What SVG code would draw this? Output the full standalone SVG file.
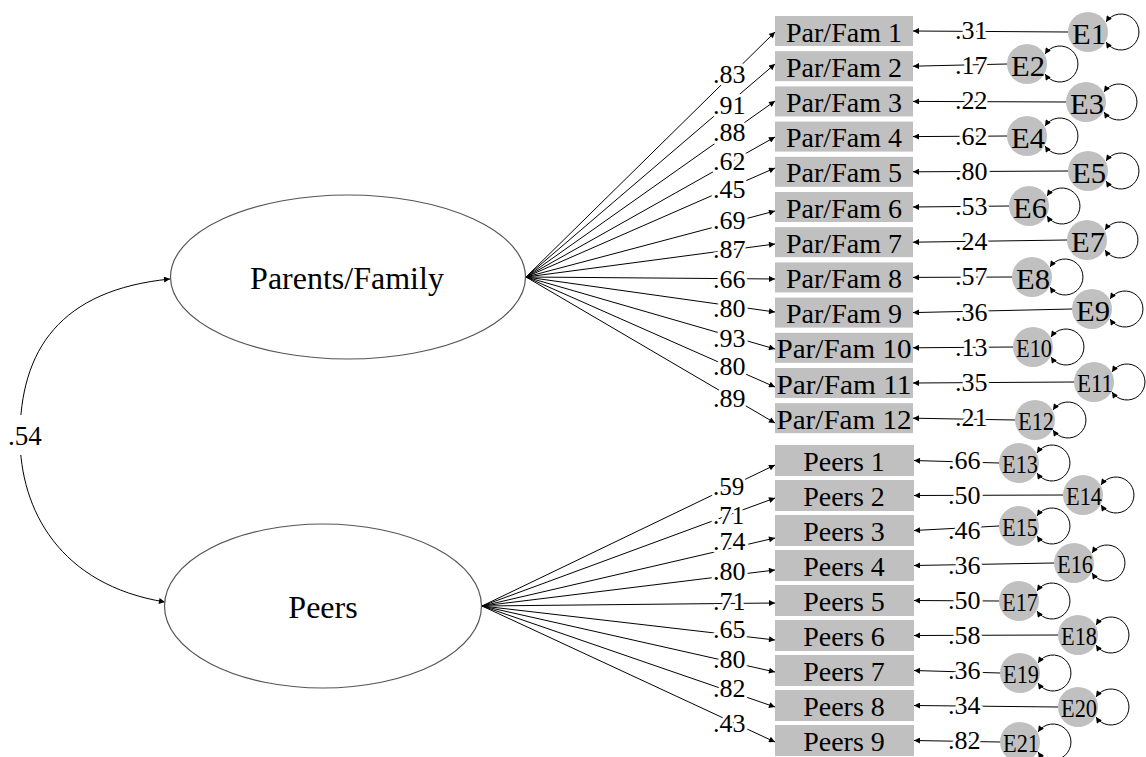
<svg xmlns="http://www.w3.org/2000/svg" width="1146" height="757" viewBox="0 0 1146 757">
<style>
.bg{fill:#fff}
.lat{fill:#fff;stroke:#555;stroke-width:1.2}
.box{fill:#c0c0c0}
.err{fill:#c0c0c0}
.ln{fill:none;stroke:#000;stroke-width:1}
.t{font-family:"Liberation Serif","Times New Roman",serif;fill:#000}
.lt{font-size:32px;text-anchor:middle}
.bt{font-size:28px;text-anchor:middle}
.et{font-size:30px;text-anchor:middle}
.es{font-size:26px;text-anchor:middle}
.lbl{font-size:26px;paint-order:stroke;stroke:#fff;stroke-width:6px;stroke-linejoin:round}
</style>
<defs>
<marker id="ah" viewBox="0 0 10 10" refX="10" refY="5" markerWidth="8" markerHeight="6" markerUnits="userSpaceOnUse" orient="auto-start-reverse">
<path d="M0,0 L10,5 L0,10 z" fill="#000"/>
</marker>
</defs>
<rect class="bg" x="0" y="0" width="1146" height="757"/>

<g id="connectors">
<path class="ln" d="M170,279 C60,290 20,350 20,437 C20,510 60,585 165,602" marker-start="url(#ah)" marker-end="url(#ah)"/>
<g marker-end="url(#ah)">
<path class="ln" d="M526,277 L775,32"/>
<path class="ln" d="M526,277 L775,64"/>
<path class="ln" d="M526,277 L775,101"/>
<path class="ln" d="M526,277 L775,137"/>
<path class="ln" d="M526,277 L775,168"/>
<path class="ln" d="M526,277 L775,211"/>
<path class="ln" d="M526,277 L775,244"/>
<path class="ln" d="M526,277 L775,279"/>
<path class="ln" d="M526,277 L775,312"/>
<path class="ln" d="M526,277 L775,349"/>
<path class="ln" d="M526,277 L775,387"/>
<path class="ln" d="M526,277 L775,423"/>
<path class="ln" d="M482,606 L775,465"/>
<path class="ln" d="M482,606 L775,498"/>
<path class="ln" d="M482,606 L775,538"/>
<path class="ln" d="M482,606 L775,570"/>
<path class="ln" d="M482,606 L775,603"/>
<path class="ln" d="M482,606 L775,640"/>
<path class="ln" d="M482,606 L775,672"/>
<path class="ln" d="M482,606 L775,707"/>
<path class="ln" d="M482,606 L775,742"/>
<path class="ln" d="M1068,32 L913,31"/>
<path class="ln" d="M1007,64 L913,66.2"/>
<path class="ln" d="M1066,102 L913,101.4"/>
<path class="ln" d="M1007,136 L913,136.6"/>
<path class="ln" d="M1068,171 L913,171.8"/>
<path class="ln" d="M1009,206 L913,207"/>
<path class="ln" d="M1067,240 L913,242.2"/>
<path class="ln" d="M1012,277 L913,277.4"/>
<path class="ln" d="M1072,309 L913,312.6"/>
<path class="ln" d="M1013,347 L913,347.8"/>
<path class="ln" d="M1074,382 L913,383"/>
<path class="ln" d="M1015,420 L913,418.2"/>
<path class="ln" d="M999,463 L914,460.5"/>
<path class="ln" d="M1063,495 L914,495.5"/>
<path class="ln" d="M999,526 L914,530.5"/>
<path class="ln" d="M1054,563 L914,565.5"/>
<path class="ln" d="M999,601 L914,600.5"/>
<path class="ln" d="M1058,635 L914,635.5"/>
<path class="ln" d="M1000,673 L914,670.5"/>
<path class="ln" d="M1058,707 L914,705.5"/>
<path class="ln" d="M1000,742 L914,740.5"/>
</g>
<g marker-start="url(#ah)" marker-end="url(#ah)">
<path class="ln" d="M1106,22 A18,18 0 1 1 1106,42"/>
<path class="ln" d="M1045,54 A18,18 0 1 1 1045,74"/>
<path class="ln" d="M1104,92 A18,18 0 1 1 1104,112"/>
<path class="ln" d="M1045,126 A18,18 0 1 1 1045,146"/>
<path class="ln" d="M1106,161 A18,18 0 1 1 1106,181"/>
<path class="ln" d="M1047,196 A18,18 0 1 1 1047,216"/>
<path class="ln" d="M1105,230 A18,18 0 1 1 1105,250"/>
<path class="ln" d="M1050,267 A18,18 0 1 1 1050,287"/>
<path class="ln" d="M1110,299 A18,18 0 1 1 1110,319"/>
<path class="ln" d="M1051,337 A18,18 0 1 1 1051,357"/>
<path class="ln" d="M1112,372 A18,18 0 1 1 1112,392"/>
<path class="ln" d="M1053,410 A18,18 0 1 1 1053,430"/>
<path class="ln" d="M1037,453 A18,18 0 1 1 1037,473"/>
<path class="ln" d="M1101,485 A18,18 0 1 1 1101,505"/>
<path class="ln" d="M1037,516 A18,18 0 1 1 1037,536"/>
<path class="ln" d="M1092,553 A18,18 0 1 1 1092,573"/>
<path class="ln" d="M1037,591 A18,18 0 1 1 1037,611"/>
<path class="ln" d="M1096,625 A18,18 0 1 1 1096,645"/>
<path class="ln" d="M1038,663 A18,18 0 1 1 1038,683"/>
<path class="ln" d="M1096,697 A18,18 0 1 1 1096,717"/>
<path class="ln" d="M1038,732 A18,18 0 1 1 1038,752"/>
</g>
<rect x="4" y="415" width="42" height="40" fill="#fff"/>
<text class="t" x="8" y="445" font-size="27">.54</text>
<g class="t lbl">
<text x="713" y="83">.83</text>
<text x="713" y="114">.91</text>
<text x="713" y="141">.88</text>
<text x="713" y="170">.62</text>
<text x="713" y="198">.45</text>
<text x="713" y="229">.69</text>
<text x="713" y="258">.87</text>
<text x="713" y="288">.66</text>
<text x="713" y="317">.80</text>
<text x="713" y="347">.93</text>
<text x="713" y="375">.80</text>
<text x="713" y="407">.89</text>
<text x="713" y="495" font-size="25">.59</text>
<text x="713" y="524" font-size="25">.71</text>
<text x="713" y="550">.74</text>
<text x="713" y="580">.80</text>
<text x="713" y="610">.71</text>
<text x="713" y="638">.65</text>
<text x="713" y="668">.80</text>
<text x="713" y="697">.82</text>
<text x="713" y="732">.43</text>
<text x="955" y="39">.31</text>
<text x="955" y="74.2">.17</text>
<text x="955" y="109.4">.22</text>
<text x="955" y="144.6">.62</text>
<text x="955" y="179.8">.80</text>
<text x="955" y="215">.53</text>
<text x="955" y="250.2">.24</text>
<text x="955" y="285.4">.57</text>
<text x="955" y="320.6">.36</text>
<text x="955" y="355.8">.13</text>
<text x="955" y="391">.35</text>
<text x="955" y="426.2">.21</text>
<text x="948" y="468.5">.66</text>
<text x="948" y="503.5">.50</text>
<text x="948" y="538.5">.46</text>
<text x="948" y="573.5">.36</text>
<text x="948" y="608.5">.50</text>
<text x="948" y="643.5">.58</text>
<text x="948" y="678.5">.36</text>
<text x="948" y="713.5">.34</text>
<text x="948" y="748.5">.82</text>
</g>
</g>

<g id="latent-parents">
<ellipse class="lat" cx="348" cy="277" rx="177.5" ry="82"/>
<text class="t lt" x="347" y="289">Parents/Family</text>
</g>
<g id="latent-peers">
<ellipse class="lat" cx="323" cy="606" rx="158.5" ry="82"/>
<text class="t lt" x="323" y="618">Peers</text>
</g>

<g id="pf1"><rect class="box" x="775" y="16" width="138" height="30"/><text class="t bt" x="844" y="41.5">Par/Fam 1</text></g>
<g id="pf2"><rect class="box" x="775" y="51.2" width="138" height="30"/><text class="t bt" x="844" y="76.7">Par/Fam 2</text></g>
<g id="pf3"><rect class="box" x="775" y="86.4" width="138" height="30"/><text class="t bt" x="844" y="111.9">Par/Fam 3</text></g>
<g id="pf4"><rect class="box" x="775" y="121.6" width="138" height="30"/><text class="t bt" x="844" y="147.1">Par/Fam 4</text></g>
<g id="pf5"><rect class="box" x="775" y="156.8" width="138" height="30"/><text class="t bt" x="844" y="182.3">Par/Fam 5</text></g>
<g id="pf6"><rect class="box" x="775" y="192" width="138" height="30"/><text class="t bt" x="844" y="217.5">Par/Fam 6</text></g>
<g id="pf7"><rect class="box" x="775" y="227.2" width="138" height="30"/><text class="t bt" x="844" y="252.7">Par/Fam 7</text></g>
<g id="pf8"><rect class="box" x="775" y="262.4" width="138" height="30"/><text class="t bt" x="844" y="287.9">Par/Fam 8</text></g>
<g id="pf9"><rect class="box" x="775" y="297.6" width="138" height="30"/><text class="t bt" x="844" y="323.1">Par/Fam 9</text></g>
<g id="pf10"><rect class="box" x="775" y="332.8" width="138" height="30"/><text class="t bt" x="844" y="358.3" textLength="135" lengthAdjust="spacingAndGlyphs">Par/Fam 10</text></g>
<g id="pf11"><rect class="box" x="775" y="368" width="138" height="30"/><text class="t bt" x="844" y="393.5" textLength="135" lengthAdjust="spacingAndGlyphs">Par/Fam 11</text></g>
<g id="pf12"><rect class="box" x="775" y="403.2" width="138" height="30"/><text class="t bt" x="844" y="428.7" textLength="135" lengthAdjust="spacingAndGlyphs">Par/Fam 12</text></g>

<g id="pe1"><rect class="box" x="775" y="445" width="139" height="31"/><text class="t bt" x="844" y="471">Peers 1</text></g>
<g id="pe2"><rect class="box" x="775" y="480" width="139" height="31"/><text class="t bt" x="844" y="506">Peers 2</text></g>
<g id="pe3"><rect class="box" x="775" y="515" width="139" height="31"/><text class="t bt" x="844" y="541">Peers 3</text></g>
<g id="pe4"><rect class="box" x="775" y="550" width="139" height="31"/><text class="t bt" x="844" y="576">Peers 4</text></g>
<g id="pe5"><rect class="box" x="775" y="585" width="139" height="31"/><text class="t bt" x="844" y="611">Peers 5</text></g>
<g id="pe6"><rect class="box" x="775" y="620" width="139" height="31"/><text class="t bt" x="844" y="646">Peers 6</text></g>
<g id="pe7"><rect class="box" x="775" y="655" width="139" height="31"/><text class="t bt" x="844" y="681">Peers 7</text></g>
<g id="pe8"><rect class="box" x="775" y="690" width="139" height="31"/><text class="t bt" x="844" y="716">Peers 8</text></g>
<g id="pe9"><rect class="box" x="775" y="725" width="139" height="31"/><text class="t bt" x="844" y="751">Peers 9</text></g>

<g id="e1"><circle class="err" cx="1088" cy="32" r="20"/><text class="t et" x="1089" y="44" textLength="34" lengthAdjust="spacingAndGlyphs">E1</text></g>
<g id="e2"><circle class="err" cx="1027" cy="64" r="20"/><text class="t et" x="1028" y="76" textLength="34" lengthAdjust="spacingAndGlyphs">E2</text></g>
<g id="e3"><circle class="err" cx="1086" cy="102" r="20"/><text class="t et" x="1087" y="114" textLength="34" lengthAdjust="spacingAndGlyphs">E3</text></g>
<g id="e4"><circle class="err" cx="1027" cy="136" r="20"/><text class="t et" x="1028" y="148" textLength="34" lengthAdjust="spacingAndGlyphs">E4</text></g>
<g id="e5"><circle class="err" cx="1088" cy="171" r="20"/><text class="t et" x="1089" y="183" textLength="34" lengthAdjust="spacingAndGlyphs">E5</text></g>
<g id="e6"><circle class="err" cx="1029" cy="206" r="20"/><text class="t et" x="1030" y="218" textLength="34" lengthAdjust="spacingAndGlyphs">E6</text></g>
<g id="e7"><circle class="err" cx="1087" cy="240" r="20"/><text class="t et" x="1088" y="252" textLength="34" lengthAdjust="spacingAndGlyphs">E7</text></g>
<g id="e8"><circle class="err" cx="1032" cy="277" r="20"/><text class="t et" x="1033" y="289" textLength="34" lengthAdjust="spacingAndGlyphs">E8</text></g>
<g id="e9"><circle class="err" cx="1092" cy="309" r="20"/><text class="t et" x="1093" y="321" textLength="34" lengthAdjust="spacingAndGlyphs">E9</text></g>
<g id="e10"><circle class="err" cx="1033" cy="347" r="20"/><text class="t es" x="1034" y="357" textLength="36" lengthAdjust="spacingAndGlyphs">E10</text></g>
<g id="e11"><circle class="err" cx="1094" cy="382" r="20"/><text class="t es" x="1095" y="392" textLength="36" lengthAdjust="spacingAndGlyphs">E11</text></g>
<g id="e12"><circle class="err" cx="1035" cy="420" r="20"/><text class="t es" x="1036" y="430" textLength="36" lengthAdjust="spacingAndGlyphs">E12</text></g>
<g id="e13"><circle class="err" cx="1019" cy="463" r="20"/><text class="t es" x="1020" y="473" textLength="36" lengthAdjust="spacingAndGlyphs">E13</text></g>
<g id="e14"><circle class="err" cx="1083" cy="495" r="20"/><text class="t es" x="1084" y="505" textLength="36" lengthAdjust="spacingAndGlyphs">E14</text></g>
<g id="e15"><circle class="err" cx="1019" cy="526" r="20"/><text class="t es" x="1020" y="536" textLength="36" lengthAdjust="spacingAndGlyphs">E15</text></g>
<g id="e16"><circle class="err" cx="1074" cy="563" r="20"/><text class="t es" x="1075" y="573" textLength="36" lengthAdjust="spacingAndGlyphs">E16</text></g>
<g id="e17"><circle class="err" cx="1019" cy="601" r="20"/><text class="t es" x="1020" y="611" textLength="36" lengthAdjust="spacingAndGlyphs">E17</text></g>
<g id="e18"><circle class="err" cx="1078" cy="635" r="20"/><text class="t es" x="1079" y="645" textLength="36" lengthAdjust="spacingAndGlyphs">E18</text></g>
<g id="e19"><circle class="err" cx="1020" cy="673" r="20"/><text class="t es" x="1021" y="683" textLength="36" lengthAdjust="spacingAndGlyphs">E19</text></g>
<g id="e20"><circle class="err" cx="1078" cy="707" r="20"/><text class="t es" x="1079" y="717" textLength="36" lengthAdjust="spacingAndGlyphs">E20</text></g>
<g id="e21"><circle class="err" cx="1020" cy="742" r="20"/><text class="t es" x="1021" y="752" textLength="36" lengthAdjust="spacingAndGlyphs">E21</text></g>
</svg>
